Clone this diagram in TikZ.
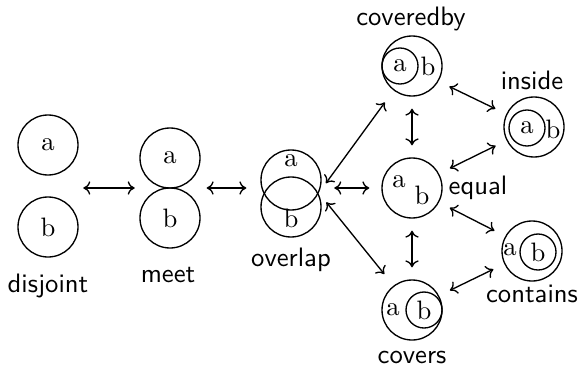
\documentclass[tikz,border=0pt]{standalone}
\usetikzlibrary{fit,arrows.meta}

\begin{document}
\begin{tikzpicture}[x=0.375pt, y=-0.375pt, line width=0.5pt,
        >={To[length=2.6pt, width=5pt]},
        region/.style={circle, draw, inner sep=0pt, minimum size=22.5pt},
        subregion/.style={circle, draw, inner sep=0pt, minimum size=13.5pt},
        letter/.style={inner sep=0pt},
        pair/.style={inner sep=0pt},
        relname/.style={font=\sffamily, inner sep=0pt, anchor=base},
        link/.style={<->, shorten <=4.5pt, shorten >=4.5pt}]

        \useasboundingbox (0,0) rectangle (582,367);

        % disjoint
        \node[region] (disjA) at (48,145) {a};
        \node[region] (disjB) at (48,227) {b};
        \node[pair, fit=(disjA)(disjB)] (disjoint) {};
        \node[relname] at (48,292) {disjoint};

        % meet
        \node[region] (meetA) at (170,158) {a};
        \node[region] (meetB) at (170,218) {b};
        \node[pair, fit=(meetA)(meetB)] (meet) {};
        \node[relname] at (168,282) {meet};

        % overlap
        \node[region] (overlapA) at (291,180) {};
        \node[region] (overlapB) at (291,207) {};
        \node[letter] at (291,161) {a};
        \node[letter] at (291,218) {b};
        \node[pair, fit=(overlapA)(overlapB)] (overlap) {};
        \node[relname] at (291,266) {overlap};

        % coveredby
        \node[region] (coveredby) at (412,66) {};
        \node[subregion] (coveredbyA) at (400,66) {a};
        \node[letter] at (428,66) {b};
        \node[relname] at (411,26) {coveredby};

        % equal
        \node[region] (equal) at (412,188) {};
        \node[letter] at (399,182) {a};
        \node[letter] at (422,195) {b};
        \node[relname, anchor=base west] at (448,194) {equal};

        % covers
        \node[region] (covers) at (412,310) {};
        \node[subregion] (coversB) at (424,310) {b};
        \node[letter] at (393,310) {a};
        \node[relname] at (412,363) {covers};

        % inside
        \node[region] (inside) at (534,127) {};
        \node[subregion] (insideA) at (527,128) {a};
        \node[letter] at (553,129) {b};
        \node[relname] at (532,90) {inside};

        % contains
        \node[region] (contains) at (532,251) {};
        \node[subregion] (containsB) at (538,252) {b};
        \node[letter] at (510,250) {a};
        \node[relname] at (532,302) {contains};

        % transitions
        \draw[link, shorten <=1.5pt, shorten >=1.5pt] (disjoint.east |- meet.west) -- (meet.west);
        \draw[link, shorten <=2pt, shorten >=5pt] (meet.east) -- (meet.east -| overlap.west);
        \draw[link] (equal.west -| overlap.east) -- (equal.west);
        \draw[link, shorten >=5.5pt] (overlapA.-25) -- (coveredby.233);
        \draw[link, shorten >=5.5pt] (overlapA.-25) -- (covers.127);
        \draw[link] (coveredby) -- (equal);
        \draw[link] (equal) -- (covers);
        \draw[link] (coveredby.-30) -- (inside.155);
        \draw[link] (equal.28) -- (inside.206);
        \draw[link] (equal.-28) -- (contains.151);
        \draw[link] (covers.28) -- (contains.205);
    \end{tikzpicture}
\end{document}
